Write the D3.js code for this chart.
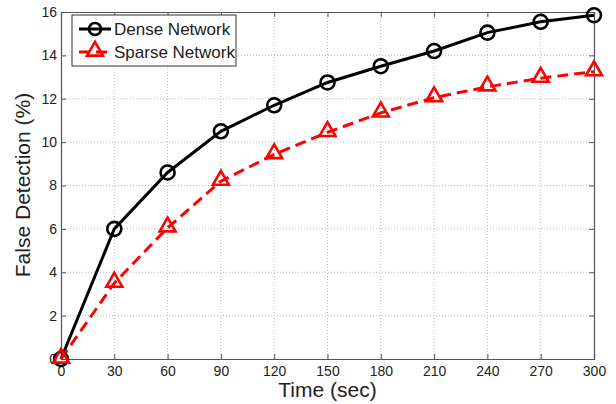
<!DOCTYPE html>
<html>
<head>
<meta charset="utf-8">
<script src="https://cdn.jsdelivr.net/npm/d3@7"></script>
<style>
  body { margin: 0; background: #fff; }
  text { font-family: "Liberation Sans", Arial, sans-serif; fill: #222; }
</style>
</head>
<body>
<svg width="616" height="404"></svg>
<script>
// data
var times = [0, 30, 60, 90, 120, 150, 180, 210, 240, 270, 300];
var dense = [0, 6.0, 8.6, 10.5, 11.7, 12.75, 13.5, 14.2, 15.05, 15.55, 15.85];
var sparse = [0, 3.5, 6.05, 8.2, 9.43, 10.45, 11.35, 12.05, 12.55, 12.95, 13.25];
var yTicks = [0, 2, 4, 6, 8, 10, 12, 14, 16];
var seriesNames = ["Dense Network", "Sparse Network"];

var svg = d3.select("svg");
var pLeft = 61, pRight = 594, pTop = 12, pBottom = 359;

var x = d3.scaleLinear().domain([0, 300]).range([pLeft, pRight]);
var y = d3.scaleLinear().domain([0, 16]).range([pBottom, pTop]);

// grid
var grid = svg.append("g").attr("stroke", "#bbb").attr("stroke-width", 1)
  .attr("stroke-dasharray", "1,2");
grid.selectAll("line.gx").data(times.slice(1, -1)).enter().append("line")
  .attr("x1", function(d) { return x(d); }).attr("x2", function(d) { return x(d); })
  .attr("y1", pTop).attr("y2", pBottom);
grid.selectAll("line.gy").data(yTicks.slice(1, -1)).enter().append("line")
  .attr("y1", function(d) { return y(d); }).attr("y2", function(d) { return y(d); })
  .attr("x1", pLeft).attr("x2", pRight);

// axes, MATLAB style: inward ticks on all four sides
var axB = svg.append("g").attr("transform", "translate(0," + pBottom + ")")
  .call(d3.axisBottom(x).tickValues(times).tickSize(-5).tickPadding(7));
var axT = svg.append("g").attr("transform", "translate(0," + pTop + ")")
  .call(d3.axisTop(x).tickValues(times).tickSize(-5).tickFormat(""));
var axL = svg.append("g").attr("transform", "translate(" + pLeft + ",0)")
  .call(d3.axisLeft(y).tickValues(yTicks).tickSize(-5).tickPadding(4));
var axR = svg.append("g").attr("transform", "translate(" + pRight + ",0)")
  .call(d3.axisRight(y).tickValues(yTicks).tickSize(-5).tickFormat(""));
[axB, axT, axL, axR].forEach(function(a) {
  a.selectAll(".domain").attr("stroke", "#555").attr("stroke-width", 1.2);
  a.selectAll(".tick line").attr("stroke", "#555");
  a.selectAll("text").style("font-size", "14px").attr("fill", "#222")
    .style("font-family", "Liberation Sans, Arial, sans-serif");
});

// axis labels
svg.append("text").attr("x", x(150)).attr("y", 397).attr("text-anchor", "middle")
  .attr("fill", "#222").style("font-size", "21px").text("Time (sec)");
svg.append("text").attr("transform", "translate(30,185) rotate(-90)")
  .attr("text-anchor", "middle").attr("fill", "#222")
  .style("font-size", "21px").text("False Detection (%)");

// lines
var line = d3.line().x(function(d, i) { return x(times[i]); }).y(function(d) { return y(d); });
svg.append("path").datum(dense).attr("d", line).attr("fill", "none")
  .attr("stroke", "#000").attr("stroke-width", 3);
svg.append("path").datum(sparse).attr("d", line).attr("fill", "none")
  .attr("stroke", "#f00").attr("stroke-width", 3).attr("stroke-dasharray", "11,6");

// markers
var tri = d3.symbol().type(d3.symbolTriangle).size(110);
svg.selectAll("circle.dense").data(dense).enter().append("circle")
  .attr("cx", function(d, i) { return x(times[i]); })
  .attr("cy", function(d) { return y(d); })
  .attr("r", 7).attr("fill", "none").attr("stroke", "#000").attr("stroke-width", 2.6);
svg.selectAll("path.sparse").data(sparse).enter().append("path")
  .attr("d", tri)
  .attr("transform", function(d, i) { return "translate(" + x(times[i]) + "," + (y(d) - 1) + ")"; })
  .attr("fill", "none").attr("stroke", "#f00").attr("stroke-width", 2.6);

// legend
var lg = svg.append("g");
lg.append("rect").attr("x", 72).attr("y", 15).attr("width", 164).attr("height", 51)
  .attr("fill", "#fff").attr("stroke", "#333").attr("stroke-width", 1);
lg.append("line").attr("x1", 79).attr("x2", 111).attr("y1", 29).attr("y2", 29)
  .attr("stroke", "#000").attr("stroke-width", 3);
lg.append("circle").attr("cx", 95).attr("cy", 29).attr("r", 6)
  .attr("fill", "none").attr("stroke", "#000").attr("stroke-width", 2.6);
lg.append("line").attr("x1", 79).attr("x2", 111).attr("y1", 52).attr("y2", 52)
  .attr("stroke", "#f00").attr("stroke-width", 3).attr("stroke-dasharray", "11,6");
lg.append("path").attr("d", tri).attr("transform", "translate(95,51)")
  .attr("fill", "none").attr("stroke", "#f00").attr("stroke-width", 2.6);
lg.selectAll("text.lg").data(seriesNames).enter().append("text")
  .attr("x", 114).attr("y", function(d, i) { return 35 + i * 23; })
  .attr("fill", "#222").style("font-size", "17px").text(function(d) { return d; });
</script>
</body>
</html>
